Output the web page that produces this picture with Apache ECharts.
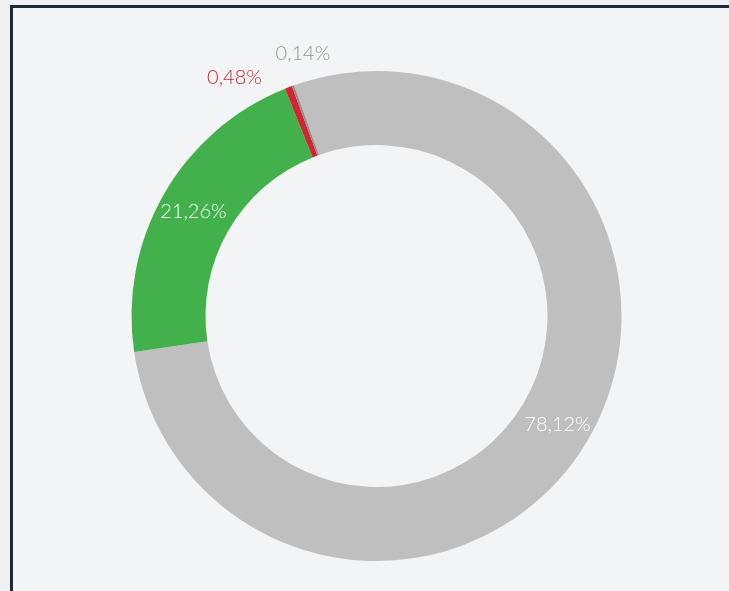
<!DOCTYPE html>
<html>
<head>
<meta charset="utf-8">
<script src="https://cdn.jsdelivr.net/npm/echarts@6/dist/echarts.min.js"></script>
<style>
  html, body { margin: 0; padding: 0; background: #eef0f2; overflow: hidden; }
  #frame {
    position: absolute; left: 10px; top: 5px; width: 740px; height: 620px;
    border: 3px solid #1f2a37; background: #f3f4f6;
  }
  #chart { position: absolute; left: 0; top: 0; width: 729px; height: 591px; }
</style>
</head>
<body>
<div id="frame"></div>
<div id="chart"></div>
<script>
// slice names / values, in clockwise order from the top
const sliceNames = ['Restante', 'Verde', 'Vermelho', 'Outros'];
const sliceValues = [78.12, 21.26, 0.48, 0.14];
const sliceColors = ['#bfbfbf', '#43b14b', '#d22532', '#8e8e8e'];

const myChart = echarts.init(document.getElementById('chart'));

const fmt = v => v.toFixed(2).replace('.', ',') + '%';

const data = sliceNames.map((name, i) => {
  const item = { name: name, value: sliceValues[i], itemStyle: { color: sliceColors[i] } };
  if (sliceValues[i] < 1) {
    item.label = {
      position: 'outside',
      color: i === 2 ? '#d22532' : '#96979c'
    };
    item.labelLine = i === 2 ? { show: false, length: 10, length2: 18 } : { show: false, length: 34, length2: -54 };
  }
  return item;
});

myChart.setOption({
  animation: false,
  series: [
    {
      type: 'pie',
      center: [376.5, 316],
      radius: [171, 245],
      startAngle: 109.7,
      clockwise: true,
      avoidLabelOverlap: false,
      data: data,
      label: {
        show: true,
        position: 'inside',
        color: '#ffffff',
        fontFamily: 'Lato',
        fontWeight: 300,
        fontSize: 20,
        formatter: p => fmt(p.value)
      },
      emphasis: { disabled: true }
    }
  ]
});

window.addEventListener('resize', () => myChart.resize());
</script>
</body>
</html>
